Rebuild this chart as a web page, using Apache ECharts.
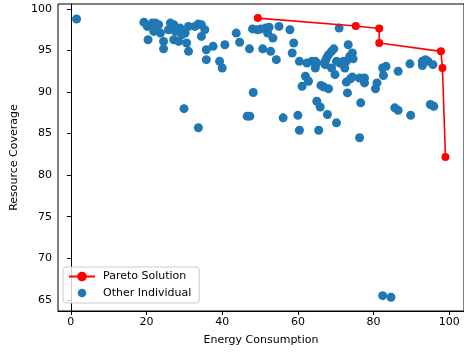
<!DOCTYPE html>
<html>
<head>
<meta charset="utf-8">
<script src="https://cdn.jsdelivr.net/npm/echarts@6/dist/echarts.min.js"></script>
<style>
  html, body { margin: 0; padding: 0; background: #fff; }
  #chart { width: 464px; height: 354px; }
</style>
</head>
<body>
<div id="chart"></div>
<script>
// pareto front, sorted by energy
const paretoPoints = [
  [49.4, 98.9], [75.3, 97.95], [81.5, 97.66], [81.5, 95.9],
  [97.8, 94.9], [98.2, 92.9], [99.0, 82.2]
]

// everything else
const otherPoints = [
  [1.5, 98.8],
  [19.3, 98.4], [20.2, 97.9], [20.4, 96.3], [21.5, 98.3], [22.4, 98.3], [23.2, 98.1],
  [21.9, 97.3], [23.7, 97.1], [24.5, 96.1], [24.5, 95.2], [26.3, 98.3], [27.2, 98.1],
  [25.8, 97.5], [27.6, 97.3], [27.2, 96.3], [28.5, 96.1], [29.3, 96.9], [30.2, 97.1],
  [30.6, 95.9], [31.1, 94.9], [28.9, 97.7], [31.1, 97.9], [32.8, 97.9], [33.7, 98.2],
  [34.5, 98.1], [35.4, 97.5], [34.5, 96.7], [35.8, 95.1], [35.8, 93.9], [37.6, 95.5],
  [39.3, 93.7], [40.0, 92.9], [40.7, 95.7], [43.7, 97.1], [44.6, 96.0],
  [47.2, 95.2], [48.0, 97.6], [48.2, 89.95], [29.9, 88.0], [33.7, 85.7], [46.6, 87.1], [47.3, 87.1],
  [49.3, 97.5], [50.2, 97.6], [51.5, 97.7], [52.4, 97.8], [52.0, 97.1], [53.4, 96.5],
  [55.0, 97.9], [57.9, 97.5], [58.9, 95.9], [58.5, 94.7], [50.7, 95.2], [52.8, 94.9],
  [54.3, 93.9], [60.4, 93.7],
  [62.4, 93.5], [63.7, 93.7], [64.6, 93.7], [65.0, 93.5], [64.6, 92.9], [67.2, 93.7],
  [67.6, 94.1], [68.1, 94.5], [68.9, 94.9], [69.5, 95.2], [67.2, 93.3], [68.9, 92.9],
  [70.2, 93.7], [71.1, 93.5], [72.0, 93.3], [72.4, 92.9], [72.0, 93.7], [69.8, 92.1],
  [70.9, 97.7], [73.3, 95.7], [73.7, 94.3], [74.4, 94.7], [74.6, 94.0], [72.8, 93.7],
  [62.0, 91.9], [62.8, 91.3], [61.1, 90.7], [66.1, 90.8], [66.9, 90.6], [68.1, 90.4],
  [72.8, 91.2], [73.9, 91.6], [74.4, 91.8], [73.1, 89.9], [76.3, 91.7], [77.6, 91.7],
  [77.6, 91.1], [76.6, 88.7], [80.5, 90.4], [80.9, 91.1], [82.4, 92.9], [83.3, 93.1],
  [82.6, 92.0], [86.5, 92.5], [89.6, 93.4], [92.9, 93.7], [93.7, 93.9], [94.4, 93.7],
  [92.9, 93.2], [95.7, 93.3],
  [65.0, 88.9], [65.9, 88.2], [67.8, 87.3], [70.2, 86.3], [85.6, 88.1], [86.5, 87.8],
  [89.8, 87.2], [95.0, 88.5], [95.9, 88.3], [56.1, 86.9], [60.0, 87.2], [60.4, 85.4],
  [65.5, 85.4], [76.3, 84.5], [82.4, 65.5], [84.6, 65.3]
]

const xTicks = [0, 20, 40, 60, 80, 100]
const yTicks = [65, 70, 75, 80, 85, 90, 95, 100]

const font = 'DejaVu Sans'
const chart = echarts.init(document.getElementById('chart'), null, { renderer: 'canvas' })

// small dot for the legend, the default scatter icon fills the whole item box
const dotSvg = '<svg xmlns="http://www.w3.org/2000/svg" width="26" height="12" viewBox="0 0 26 12">' +
  '<circle cx="13" cy="6" r="4.3" fill="#1f77b4"/></svg>'
const dotIcon = 'image://data:image/svg+xml;charset=utf-8,' + encodeURIComponent(dotSvg)

chart.setOption({
  animation: false,
  textStyle: { fontFamily: font },
  grid: { left: 58, top: 4, right: -5, bottom: 43, show: true, borderColor: '#000', borderWidth: 1 },
  legend: {
    orient: 'vertical',
    left: 63, top: 267,
    padding: [4, 8, 4, 5],
    itemWidth: 26, itemHeight: 12, itemGap: 5,
    borderColor: '#ccc', borderWidth: 1, borderRadius: 3,
    backgroundColor: 'rgba(255,255,255,0.8)',
    textStyle: { fontFamily: font, fontSize: 11, color: '#000', padding: [0, 0, 0, 3] },
    data: [
      { name: 'Pareto Solution' },
      { name: 'Other Individual', icon: dotIcon }
    ]
  },
  xAxis: {
    type: 'value',
    min: -3.4, max: 103.9,
    name: 'Energy Consumption',
    nameLocation: 'middle', nameGap: 24,
    nameTextStyle: { fontFamily: font, fontSize: 11, color: '#000' },
    axisLine: { show: true, lineStyle: { color: '#000', width: 1 } },
    axisTick: { show: true, length: 4, lineStyle: { color: '#000' }, customValues: xTicks },
    axisLabel: { fontFamily: font, fontSize: 11, color: '#000', margin: 6, customValues: xTicks },
    splitLine: { show: false }
  },
  yAxis: {
    type: 'value',
    min: 63.65, max: 100.6,
    name: 'Resource Coverage',
    nameLocation: 'middle', nameGap: 35,
    nameTextStyle: { fontFamily: font, fontSize: 11, color: '#000' },
    axisLine: { show: true, lineStyle: { color: '#000', width: 1 } },
    axisTick: { show: true, length: 4, lineStyle: { color: '#000' }, customValues: yTicks },
    axisLabel: { fontFamily: font, fontSize: 11, color: '#000', margin: 6, customValues: yTicks },
    splitLine: { show: false }
  },
  series: [
    {
      name: 'Pareto Solution',
      type: 'line',
      data: paretoPoints,
      z: 3,
      symbol: 'circle',
      symbolSize: 8,
      lineStyle: { color: '#ff0000', width: 1.6 },
      itemStyle: { color: '#ff0000' }
    },
    {
      name: 'Other Individual',
      type: 'scatter',
      data: otherPoints,
      z: 2,
      symbol: 'circle',
      symbolSize: 9,
      itemStyle: { color: '#1f77b4', opacity: 1 }
    }
  ]
})
</script>
</body>
</html>
